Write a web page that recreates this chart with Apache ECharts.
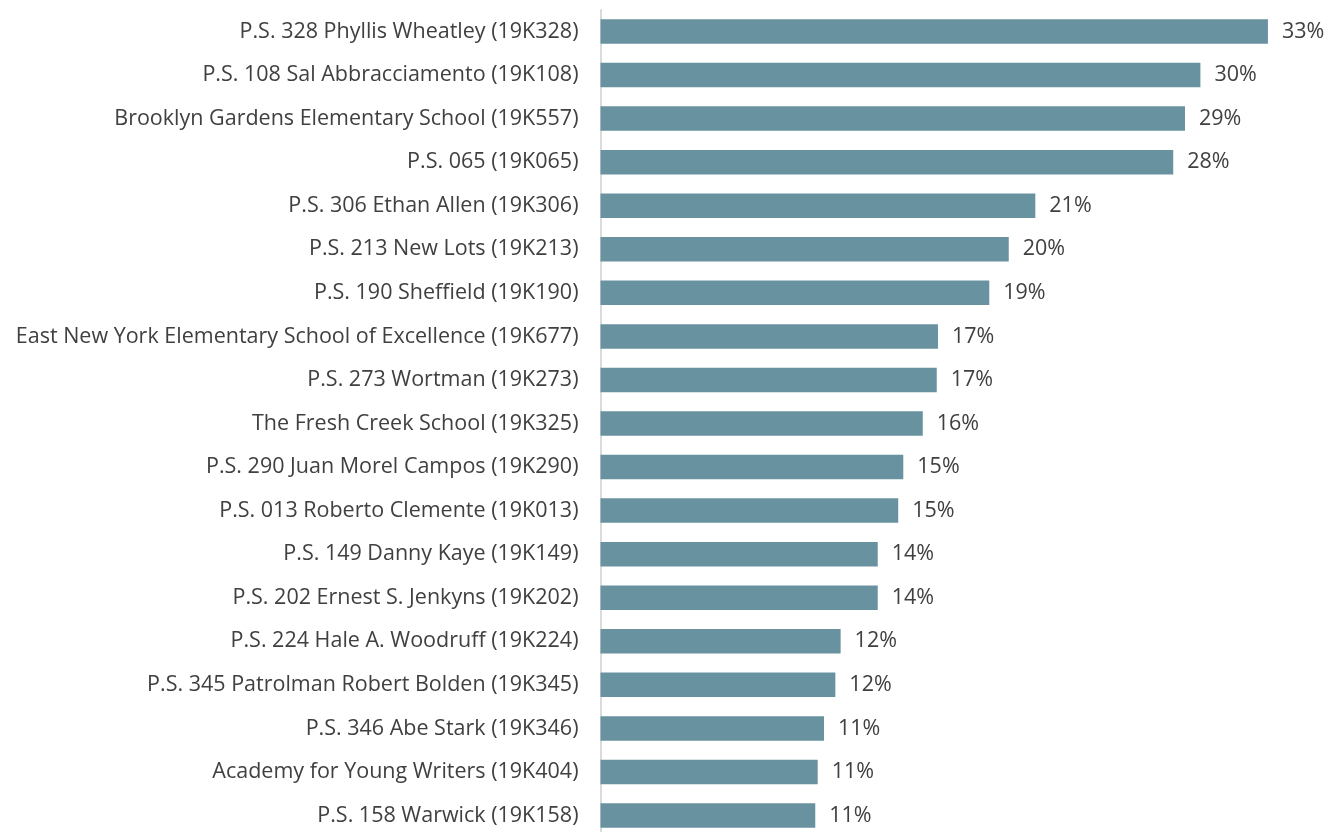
<!DOCTYPE html>
<html>
<head>
<meta charset="utf-8">
<script src="https://cdn.jsdelivr.net/npm/echarts@6/dist/echarts.min.js"></script>
<style>
  html, body { margin: 0; padding: 0; background: #fff; overflow: hidden; }
  /* chart is slightly taller than the window: the last row is cut off as in the source */
  #main { width: 1338px; height: 838px; }
</style>
</head>
<body>
<div id="main"></div>
<script>
  // schools, top to bottom
  let schools = [
    "P.S. 328 Phyllis Wheatley (19K328)",
    "P.S. 108 Sal Abbracciamento (19K108)",
    "Brooklyn Gardens Elementary School (19K557)",
    "P.S. 065 (19K065)",
    "P.S. 306 Ethan Allen (19K306)",
    "P.S. 213 New Lots (19K213)",
    "P.S. 190 Sheffield (19K190)",
    "East New York Elementary School of Excellence (19K677)",
    "P.S. 273 Wortman (19K273)",
    "The Fresh Creek School (19K325)",
    "P.S. 290 Juan Morel Campos (19K290)",
    "P.S. 013 Roberto Clemente (19K013)",
    "P.S. 149 Danny Kaye (19K149)",
    "P.S. 202 Ernest S. Jenkyns (19K202)",
    "P.S. 224 Hale A. Woodruff (19K224)",
    "P.S. 345 Patrolman Robert Bolden (19K345)",
    "P.S. 346 Abe Stark (19K346)",
    "Academy for Young Writers (19K404)",
    "P.S. 158 Warwick (19K158)"
  ];

  // percent values
  let values = [
    32.91, 29.58, 28.82, 28.24, 21.44, 20.13, 19.17, 16.64, 16.58, 15.89,
    14.93, 14.68, 13.67, 13.67, 11.84, 11.58, 11.02, 10.71, 10.59
  ];

  let chart = echarts.init(document.getElementById('main'));

  let option = {
    backgroundColor: '#ffffff',
    animation: false,
    grid: {
      left: 600.5,
      right: 7.4,
      top: 9.7,
      bottom: 0.7
    },
    xAxis: {
      type: 'value',
      min: 0,
      max: 36,
      show: false
    },
    yAxis: {
      type: 'category',
      data: schools,
      inverse: true,
      axisTick: { show: false },
      axisLine: { show: true, lineStyle: { color: '#cfcfcf', width: 1.5 } },
      axisLabel: {
        margin: 22,
        color: '#404040',
        fontFamily: 'Open Sans',
        fontSize: 21.5
      }
    },
    series: [{
      type: 'bar',
      data: values,
      barWidth: 24.5,
      itemStyle: { color: '#68929F' },
      label: {
        show: true,
        position: 'right',
        distance: 14,
        color: '#404040',
        fontFamily: 'Open Sans',
        fontSize: 21.5,
        formatter: function (p) { return Math.round(p.value) + '%'; }
      }
    }]
  };
  chart.setOption(option);
</script>
</body>
</html>
